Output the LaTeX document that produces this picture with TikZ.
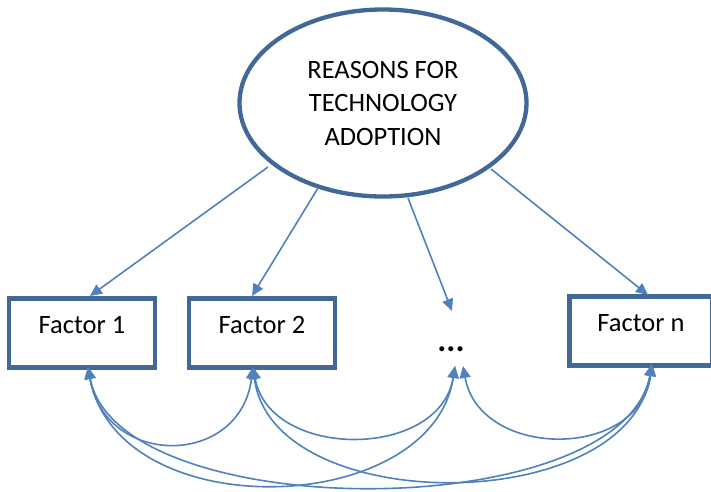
\documentclass[tikz,border=0pt]{standalone}
\usepackage{fontspec}
\setmainfont{Carlito}
\usetikzlibrary{shapes.geometric,arrows.meta}
\definecolor{edge}{RGB}{66,104,152}
\definecolor{conn}{RGB}{79,129,189}
\tikzset{
  factorbox/.style={draw=edge, line width=4.5pt, fill=white, minimum width=146pt, minimum height=69pt,
    inner sep=0pt, text height=18pt, text depth=18pt, font=\fontsize{26.5}{31}\selectfont},
  reason/.style={draw=edge, line width=4.3pt, ellipse, minimum width=287pt, minimum height=187pt,
    inner sep=0pt, align=center, font=\fontsize{26.5}{33.5}\selectfont},
  link/.style={draw=conn, line width=1.6pt, -{Triangle[length=12pt,width=11pt]}},
  corr/.style={draw=conn, line width=1.6pt, {Triangle[length=12pt,width=11pt]}-{Triangle[length=12pt,width=11pt]}},
}
\begin{document}
\begin{tikzpicture}[x=1pt,y=-1pt]
\useasboundingbox (0,0) rectangle (711,491);
\node[reason] (top) at (383,103) {REASONS FOR\\TECHNOLOGY\\ADOPTION};
\node[factorbox] (f1) at (82,333) {Factor 1};
\node[factorbox] (f2) at (262,333) {Factor 2};
\node[factorbox, minimum width=143pt] (fn) at (641,331) {Factor n};
\node[font=\fontsize{34}{34}\selectfont\bfseries, inner sep=0pt] (dots) at (451,349) {...};
% top-down arrows
\coordinate (s1) at (268,167);
\coordinate (s2) at (318,188);
\coordinate (s3) at (408,198);
\coordinate (s4) at (491,169);
\coordinate (t1) at (90,296);
\coordinate (t2) at (252,296);
\coordinate (t3) at (452,311);
\coordinate (t4) at (648,295);
\draw[link] (s1) -- (t1);
\draw[link] (s2) -- (t2);
\draw[link] (s3) -- (t3);
\draw[link] (s4) -- (t4);
% correlation curves
\coordinate (b1) at (88,367);
\coordinate (b2) at (253,367);
\coordinate (bd) at (455,366);
\coordinate (bdr) at (463,366);
\coordinate (bn) at (652,364);
\draw[corr] (b1) .. controls (105,468) and (240,468) .. (b2);
\draw[corr] (b1) .. controls (118,528) and (432,518) .. (bd);
\draw[corr] (b1) .. controls (118,526) and (622,526) .. (bn);
\draw[corr] (b2) .. controls (270,460) and (440,460) .. (bd);
\draw[corr] (b2) .. controls (272,518) and (628,518) .. (bn);
\draw[corr] (bdr) .. controls (480,460) and (640,460) .. (bn);
\end{tikzpicture}
\end{document}
